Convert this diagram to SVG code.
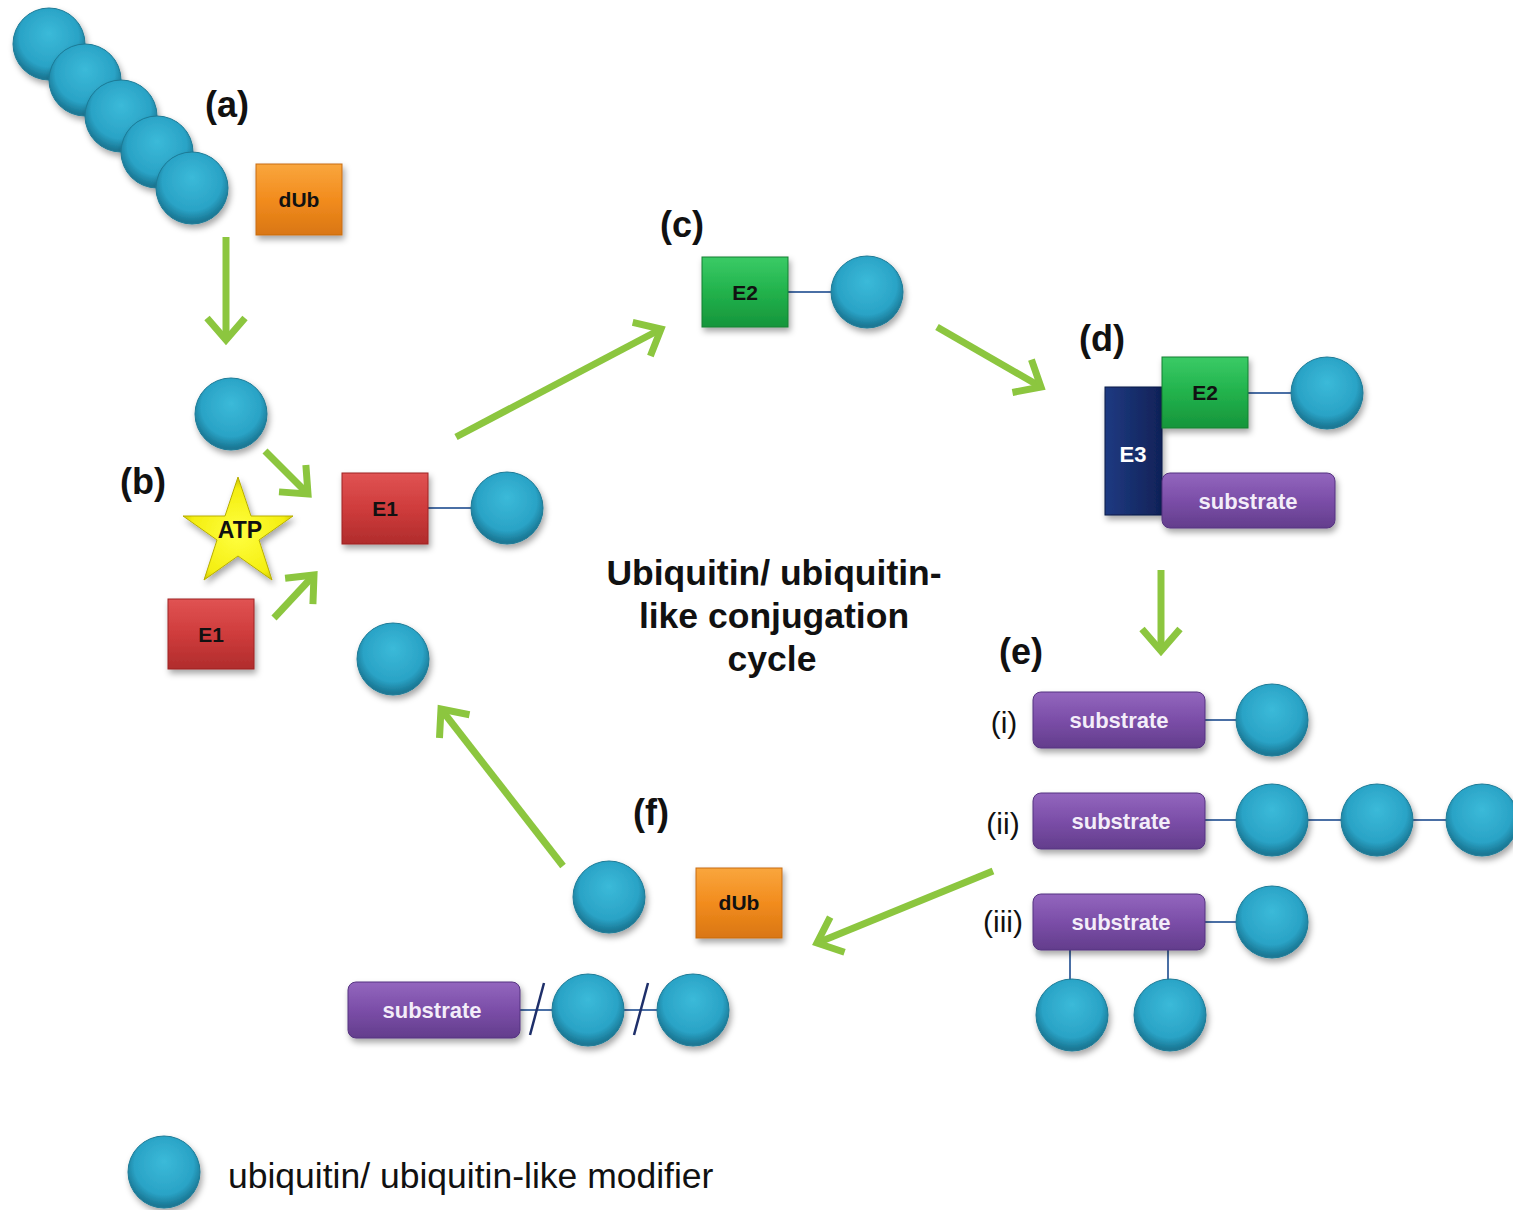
<svg xmlns="http://www.w3.org/2000/svg" width="1513" height="1210" viewBox="0 0 1513 1210">
<defs>
  <radialGradient id="ub" cx="50%" cy="42%" r="55%" fx="50%" fy="35%">
    <stop offset="0" stop-color="#3BBAD9"/>
    <stop offset="0.75" stop-color="#2AA3C6"/>
    <stop offset="1" stop-color="#1A7895"/>
  </radialGradient>
  <linearGradient id="red" x1="0" y1="0" x2="0" y2="1">
    <stop offset="0" stop-color="#E05353"/><stop offset="0.5" stop-color="#CF3C3C"/><stop offset="1" stop-color="#B02C2C"/>
  </linearGradient>
  <linearGradient id="green" x1="0" y1="0" x2="0" y2="1">
    <stop offset="0" stop-color="#3ACB66"/><stop offset="0.5" stop-color="#22B24C"/><stop offset="1" stop-color="#16953B"/>
  </linearGradient>
  <linearGradient id="orange" x1="0" y1="0" x2="0" y2="1">
    <stop offset="0" stop-color="#F9A63D"/><stop offset="0.5" stop-color="#F28C1E"/><stop offset="1" stop-color="#D97612"/>
  </linearGradient>
  <linearGradient id="purple" x1="0" y1="0" x2="0" y2="1">
    <stop offset="0" stop-color="#9366BE"/><stop offset="0.5" stop-color="#7B4EA8"/><stop offset="1" stop-color="#633D8C"/>
  </linearGradient>
  <linearGradient id="navy" x1="0" y1="0" x2="1" y2="0">
    <stop offset="0" stop-color="#1F3A82"/><stop offset="0.5" stop-color="#172E6C"/><stop offset="1" stop-color="#102258"/>
  </linearGradient>
  <radialGradient id="star" cx="50%" cy="55%" r="55%">
    <stop offset="0" stop-color="#FFFF40"/><stop offset="0.8" stop-color="#F4EE10"/><stop offset="1" stop-color="#C8C000"/>
  </radialGradient>
  <filter id="sh" x="-20%" y="-20%" width="150%" height="150%">
    <feDropShadow dx="2" dy="4" stdDeviation="3" flood-color="#000" flood-opacity="0.35"/>
  </filter>
  <marker id="chev" markerUnits="userSpaceOnUse" viewBox="-30 -25 36 50" markerWidth="36" markerHeight="50" refX="0" refY="0" orient="auto">
    <path d="M-22,-19 L0,0 L-22,19" fill="none" stroke="#8CC63F" stroke-width="7" stroke-linecap="butt" stroke-linejoin="miter"/>
  </marker>
</defs>
<style>
  .ub { fill: url(#ub); stroke: #1B7A96; stroke-width: 1; filter: url(#sh); }
  .box { filter: url(#sh); }
  .lbl { font-family: "Liberation Sans", Arial, sans-serif; font-weight: bold; font-size: 36px; fill: #111; text-anchor: middle; }
  .ttl { font-family: "Liberation Sans", Arial, sans-serif; font-weight: bold; font-size: 35.5px; fill: #111; text-anchor: middle; }
  .bt { font-family: "Liberation Sans", Arial, sans-serif; font-weight: bold; font-size: 21px; fill: #111; text-anchor: middle; }
  .wt { font-family: "Liberation Sans", Arial, sans-serif; font-weight: bold; font-size: 22px; fill: #F3EDF9; text-anchor: middle; }
  .rn { font-family: "Liberation Sans", Arial, sans-serif; font-size: 30px; fill: #111; text-anchor: middle; }
  .arr { stroke: #8CC63F; stroke-width: 7; fill: none; marker-end: url(#chev); }
  .ln { stroke: #4A6FA5; stroke-width: 2; fill: none; }
  .sl { stroke: #1E2F6A; stroke-width: 2.5; fill: none; }
</style>
<rect width="1513" height="1210" fill="#FFFFFF"/>

<!-- connectors -->
<g id="connectors">
  <line class="arr" x1="226" y1="237" x2="226" y2="340"/>
  <line class="arr" x1="265" y1="451" x2="308" y2="494"/>
  <line class="arr" x1="274" y1="618" x2="314" y2="575"/>
  <line class="arr" x1="456" y1="437" x2="661" y2="329"/>
  <line class="arr" x1="937" y1="327" x2="1041" y2="387"/>
  <line class="arr" x1="1161" y1="570" x2="1161" y2="651"/>
  <line class="arr" x1="993" y1="871" x2="817" y2="943"/>
  <line class="arr" x1="563" y1="866" x2="441" y2="709"/>
  <line class="ln" x1="428" y1="508" x2="471" y2="508"/>
  <line class="ln" x1="788" y1="292" x2="831" y2="292"/>
  <line class="ln" x1="1248" y1="393" x2="1291" y2="393"/>
  <line class="ln" x1="1205" y1="720" x2="1236" y2="720"/>
  <line class="ln" x1="1205" y1="820" x2="1236" y2="820"/>
  <line class="ln" x1="1308" y1="820" x2="1341" y2="820"/>
  <line class="ln" x1="1413" y1="820" x2="1446" y2="820"/>
  <line class="ln" x1="1205" y1="922" x2="1236" y2="922"/>
  <line class="ln" x1="1070" y1="950" x2="1070" y2="980"/>
  <line class="ln" x1="1168" y1="950" x2="1168" y2="980"/>
  <line class="ln" x1="520" y1="1010" x2="552" y2="1010"/>
  <line class="ln" x1="624" y1="1010" x2="657" y2="1010"/>
  <line class="sl" x1="530" y1="1035" x2="544" y2="983"/>
  <line class="sl" x1="634" y1="1035" x2="648" y2="983"/>
</g>

<!-- (a) polyubiquitin chain + dUb -->
<g id="node-a-chain">
  <circle class="ub" cx="49" cy="44" r="36"/>
  <circle class="ub" cx="85" cy="80" r="36"/>
  <circle class="ub" cx="121" cy="116" r="36"/>
  <circle class="ub" cx="157" cy="152" r="36"/>
  <circle class="ub" cx="192" cy="188" r="36"/>
</g>
<text id="label-a" class="lbl" x="227" y="117">(a)</text>
<g id="node-a-dub">
  <rect class="box" x="256" y="164" width="86" height="71" fill="url(#orange)" stroke="#C86C10" stroke-width="1"/>
  <text class="bt" x="299" y="207">dUb</text>
</g>

<!-- (b) -->
<g id="node-b-ub"><circle class="ub" cx="231" cy="414" r="36"/></g>
<text id="label-b" class="lbl" x="143" y="494">(b)</text>
<g id="node-atp">
  <polygon class="box" points="238,477 251,516 293,516 259,540 272,580 238,556 204,580 217,540 183,516 225,516" fill="url(#star)" stroke="#B8AE00" stroke-width="1"/>
  <text class="bt" x="240" y="538" style="font-size:23px">ATP</text>
</g>
<g id="node-e1-free">
  <rect class="box" x="168" y="599" width="86" height="70" fill="url(#red)" stroke="#9E2424" stroke-width="1"/>
  <text class="bt" x="211" y="642">E1</text>
</g>
<g id="node-e1-ub">
  <rect class="box" x="342" y="473" width="86" height="71" fill="url(#red)" stroke="#9E2424" stroke-width="1"/>
  <text class="bt" x="385" y="516">E1</text>
  <circle class="ub" cx="507" cy="508" r="36"/>
</g>
<g id="node-ub-recycled"><circle class="ub" cx="393" cy="659" r="36"/></g>

<!-- (c) -->
<text id="label-c" class="lbl" x="682" y="237">(c)</text>
<g id="node-e2-ub">
  <rect class="box" x="702" y="257" width="86" height="70" fill="url(#green)" stroke="#128033" stroke-width="1"/>
  <text class="bt" x="745" y="300">E2</text>
  <circle class="ub" cx="867" cy="292" r="36"/>
</g>

<!-- (d) -->
<text id="label-d" class="lbl" x="1102" y="351">(d)</text>
<g id="node-e3-complex">
  <rect class="box" x="1105" y="387" width="57" height="128" fill="url(#navy)" stroke="#0C1A46" stroke-width="1"/>
  <text class="wt" x="1133" y="462" style="fill:#FFFFFF">E3</text>
  <rect class="box" x="1162" y="357" width="86" height="71" fill="url(#green)" stroke="#128033" stroke-width="1"/>
  <text class="bt" x="1205" y="400">E2</text>
  <circle class="ub" cx="1327" cy="393" r="36"/>
  <rect class="box" x="1162" y="473" width="173" height="55" rx="8" fill="url(#purple)" stroke="#553380" stroke-width="1"/>
  <text class="wt" x="1248" y="509">substrate</text>
</g>

<!-- center title -->
<g id="title">
  <text class="ttl" x="774" y="585">Ubiquitin/ ubiquitin-</text>
  <text class="ttl" x="774" y="628">like conjugation</text>
  <text class="ttl" x="772" y="671">cycle</text>
</g>

<!-- (e) -->
<text id="label-e" class="lbl" x="1021" y="664">(e)</text>
<g id="node-e-i">
  <text class="rn" x="1004" y="733">(i)</text>
  <rect class="box" x="1033" y="692" width="172" height="56" rx="8" fill="url(#purple)" stroke="#553380" stroke-width="1"/>
  <text class="wt" x="1119" y="728">substrate</text>
  <circle class="ub" cx="1272" cy="720" r="36"/>
</g>
<g id="node-e-ii">
  <text class="rn" x="1003" y="834">(ii)</text>
  <rect class="box" x="1033" y="793" width="172" height="56" rx="8" fill="url(#purple)" stroke="#553380" stroke-width="1"/>
  <text class="wt" x="1121" y="829">substrate</text>
  <circle class="ub" cx="1272" cy="820" r="36"/>
  <circle class="ub" cx="1377" cy="820" r="36"/>
  <circle class="ub" cx="1482" cy="820" r="36"/>
</g>
<g id="node-e-iii">
  <text class="rn" x="1003" y="932">(iii)</text>
  <rect class="box" x="1033" y="894" width="172" height="56" rx="8" fill="url(#purple)" stroke="#553380" stroke-width="1"/>
  <text class="wt" x="1121" y="930">substrate</text>
  <circle class="ub" cx="1272" cy="922" r="36"/>
  <circle class="ub" cx="1072" cy="1015" r="36"/>
  <circle class="ub" cx="1170" cy="1015" r="36"/>
</g>

<!-- (f) -->
<text id="label-f" class="lbl" x="651" y="825">(f)</text>
<g id="node-f-ub"><circle class="ub" cx="609" cy="897" r="36"/></g>
<g id="node-f-dub">
  <rect class="box" x="696" y="868" width="86" height="70" fill="url(#orange)" stroke="#C86C10" stroke-width="1"/>
  <text class="bt" x="739" y="910">dUb</text>
</g>
<g id="node-f-substrate">
  <rect class="box" x="348" y="982" width="172" height="56" rx="8" fill="url(#purple)" stroke="#553380" stroke-width="1"/>
  <text class="wt" x="432" y="1018">substrate</text>
  <circle class="ub" cx="588" cy="1010" r="36"/>
  <circle class="ub" cx="693" cy="1010" r="36"/>
</g>

<!-- legend -->
<g id="legend">
  <circle class="ub" cx="164" cy="1172" r="36"/>
  <text x="228" y="1188" style="font-family:'Liberation Sans', Arial, sans-serif; font-size:35.5px; fill:#111">ubiquitin/ ubiquitin-like modifier</text>
</g>
</svg>
